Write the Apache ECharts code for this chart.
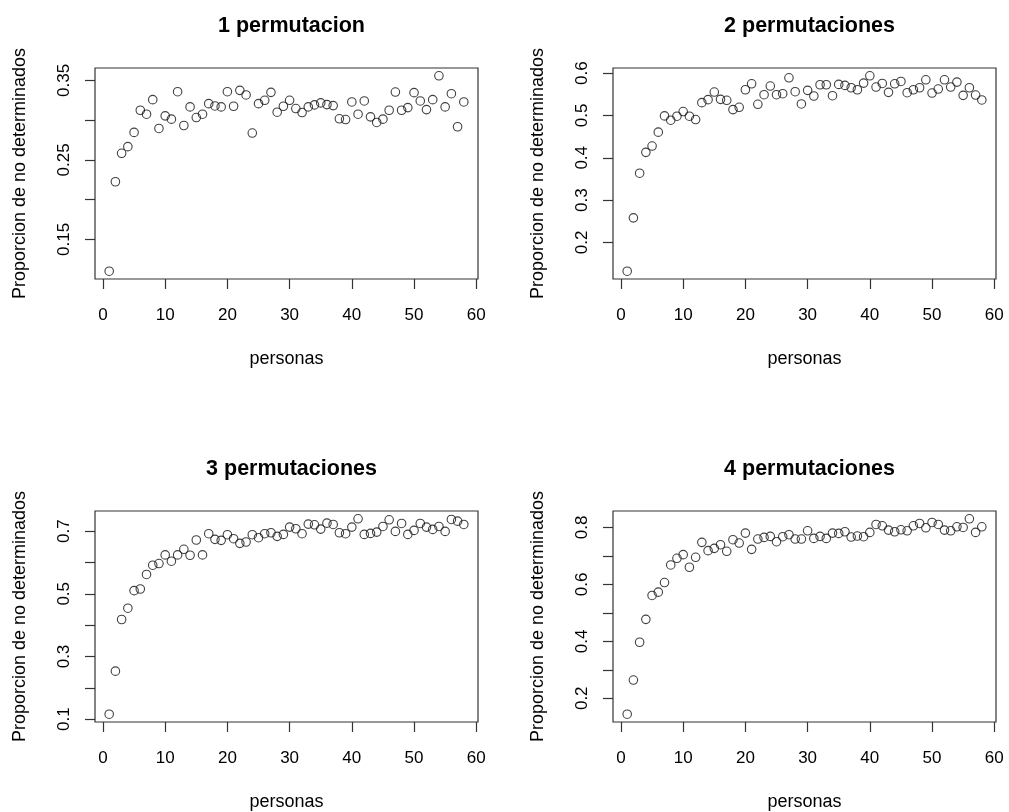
<!DOCTYPE html>
<html>
<head>
<meta charset="utf-8">
<script src="https://cdn.jsdelivr.net/npm/echarts@6/dist/echarts.min.js"></script>
<style>
html,body{margin:0;padding:0;background:#fff;}
#chart{width:1009px;height:812px;}
</style>
</head>
<body>
<div id="chart"></div>
<script>
const personas = [1,2,3,4,5,6,7,8,9,10,11,12,13,14,15,16,17,18,19,20,21,22,23,24,25,26,27,28,29,30,31,32,33,34,35,36,37,38,39,40,41,42,43,44,45,46,47,48,49,50,51,52,53,54,55,56,57,58];

const perm1 = [0.110,0.2225,0.2583,0.2667,0.2846,0.3125,0.3075,0.3258,0.2896,0.3054,0.3013,0.3358,0.2933,0.3167,0.3033,0.3075,0.3208,0.3179,0.3167,0.3358,0.3175,0.3375,0.3317,0.2838,0.3208,0.325,0.335,0.310,0.3175,0.325,0.3146,0.3096,0.3167,0.3192,0.3217,0.3196,0.3183,0.3017,0.3008,0.3229,0.3075,0.3242,0.3042,0.2971,0.3013,0.3125,0.3354,0.3125,0.3158,0.3346,0.3242,0.3133,0.3258,0.3558,0.3167,0.3333,0.2917,0.3229];

const perm2 = [0.132,0.258,0.3635,0.4128,0.4277,0.4606,0.499,0.4888,0.4982,0.5092,0.4982,0.4904,0.5303,0.5374,0.5554,0.5381,0.5358,0.5139,0.5193,0.5608,0.5749,0.5264,0.5491,0.5695,0.5491,0.5514,0.589,0.5561,0.5272,0.5593,0.546,0.5726,0.5726,0.5467,0.5734,0.571,0.5655,0.5608,0.5765,0.5937,0.5671,0.5757,0.5546,0.5749,0.5804,0.5538,0.5608,0.5655,0.5843,0.553,0.5624,0.5843,0.5671,0.5789,0.5475,0.5655,0.5483,0.5366];

const perm3 = [0.116,0.2533,0.418,0.454,0.510,0.5152,0.5617,0.5912,0.5965,0.624,0.6039,0.624,0.6419,0.6229,0.6715,0.624,0.6916,0.6736,0.6704,0.6884,0.6757,0.6609,0.6652,0.6884,0.6789,0.6916,0.6947,0.6831,0.6894,0.7127,0.7074,0.6916,0.7222,0.7201,0.7063,0.7253,0.7211,0.6947,0.6916,0.7127,0.7391,0.6894,0.6926,0.6968,0.7148,0.7359,0.6989,0.7243,0.6894,0.7021,0.7243,0.7127,0.7053,0.7148,0.6989,0.737,0.7317,0.7211];

const perm4 = [0.144,0.264,0.3967,0.4772,0.5611,0.5727,0.6065,0.6683,0.6916,0.7044,0.6601,0.6951,0.7476,0.7184,0.7266,0.7394,0.7161,0.7569,0.7452,0.7802,0.7231,0.7592,0.765,0.7685,0.7499,0.7674,0.7744,0.7592,0.7592,0.7883,0.7615,0.7685,0.7615,0.7802,0.779,0.7848,0.7662,0.7697,0.7674,0.7825,0.8105,0.8058,0.7907,0.7848,0.7918,0.7883,0.8058,0.814,0.7988,0.8175,0.8105,0.7907,0.7883,0.8023,0.80,0.8303,0.7825,0.8023];

const titles = ["1 permutacion","2 permutaciones","3 permutaciones","4 permutaciones"];
const xLabel = "personas";
const yLabel = "Proporcion de no determinados";

const xTicks = [0,10,20,30,40,50,60];
const yTicks = [
  [0.15,0.20,0.25,0.30,0.35],
  [0.2,0.3,0.4,0.5,0.6],
  [0.1,0.2,0.3,0.4,0.5,0.6,0.7],
  [0.2,0.3,0.4,0.5,0.6,0.7,0.8]
];
const yTickLabels = [
  [0.15,0.25,0.35],
  [0.2,0.3,0.4,0.5,0.6],
  [0.1,0.3,0.5,0.7],
  [0.2,0.4,0.6,0.8]
];

const seriesValues = [perm1, perm2, perm3, perm4];

const FONT = "'Liberation Sans', Arial, Helvetica, sans-serif";
const grids = [
  {left:95, top:68, width:383, height:211},
  {left:613, top:68, width:383, height:211},
  {left:95, top:511, width:383, height:212},
  {left:613, top:511, width:383, height:212}
];

function rRange(arr){
  const mn = Math.min(...arr), mx = Math.max(...arr);
  const pad = (mx - mn) * 0.04;
  return [mn - pad, mx + pad];
}
const xr = rRange(personas);

const option = {
  animation:false,
  backgroundColor:'#ffffff',
  title: grids.map((g,i)=>({
    text: titles[i],
    left: g.left + g.width/2,
    top: g.top - 58,
    textAlign:'center',
    textStyle:{fontFamily:FONT, fontWeight:'bold', fontSize:21.5, color:'#000'}
  })),
  grid: grids.map(g=>({left:g.left, top:g.top, width:g.width, height:g.height, show:true, borderColor:'#333', borderWidth:1.2, backgroundColor:'transparent'})),
  xAxis: grids.map((g,i)=>({
    type:'value', gridIndex:i, min:xr[0], max:xr[1],
    name:xLabel, nameLocation:'middle', nameGap:71,
    nameTextStyle:{fontFamily:FONT, fontSize:18, color:'#000'},
    axisLine:{show:false, onZero:false},
    axisTick:{show:true, inside:false, length:10, customValues:xTicks, lineStyle:{color:'#333', width:1.2}},
    axisLabel:{show:true, customValues:xTicks, margin:28, fontFamily:FONT, fontSize:17, color:'#000'},
    splitLine:{show:false}
  })),
  yAxis: grids.map((g,i)=>{
    const yr = rRange(seriesValues[i]);
    return {
      type:'value', gridIndex:i, min:yr[0], max:yr[1],
      name:yLabel, nameLocation:'middle', nameGap:66, nameRotate:90,
      nameTextStyle:{fontFamily:FONT, fontSize:18, color:'#000'},
      axisLine:{show:false, onZero:false},
      axisTick:{show:true, inside:false, length:10, customValues:yTicks[i], lineStyle:{color:'#333', width:1.2}},
      axisLabel:{show:true, customValues:yTickLabels[i], rotate:90, margin:22, fontFamily:FONT, fontSize:17, color:'#000',
        formatter:function(v){ return (i===0) ? v.toFixed(2) : v.toFixed(1); }},
      splitLine:{show:false}
    };
  }),
  series: seriesValues.map((vals,i)=>({
    type:'scatter', xAxisIndex:i, yAxisIndex:i,
    symbol:'circle', symbolSize:8.5,
    itemStyle:{color:'rgba(0,0,0,0)', borderColor:'#111', borderWidth:1.1},
    data: personas.map((p,k)=>[p, vals[k]])
  }))
};

const chart = echarts.init(document.getElementById('chart'), null, {renderer:'canvas'});
chart.setOption(option);
</script>
</body>
</html>
